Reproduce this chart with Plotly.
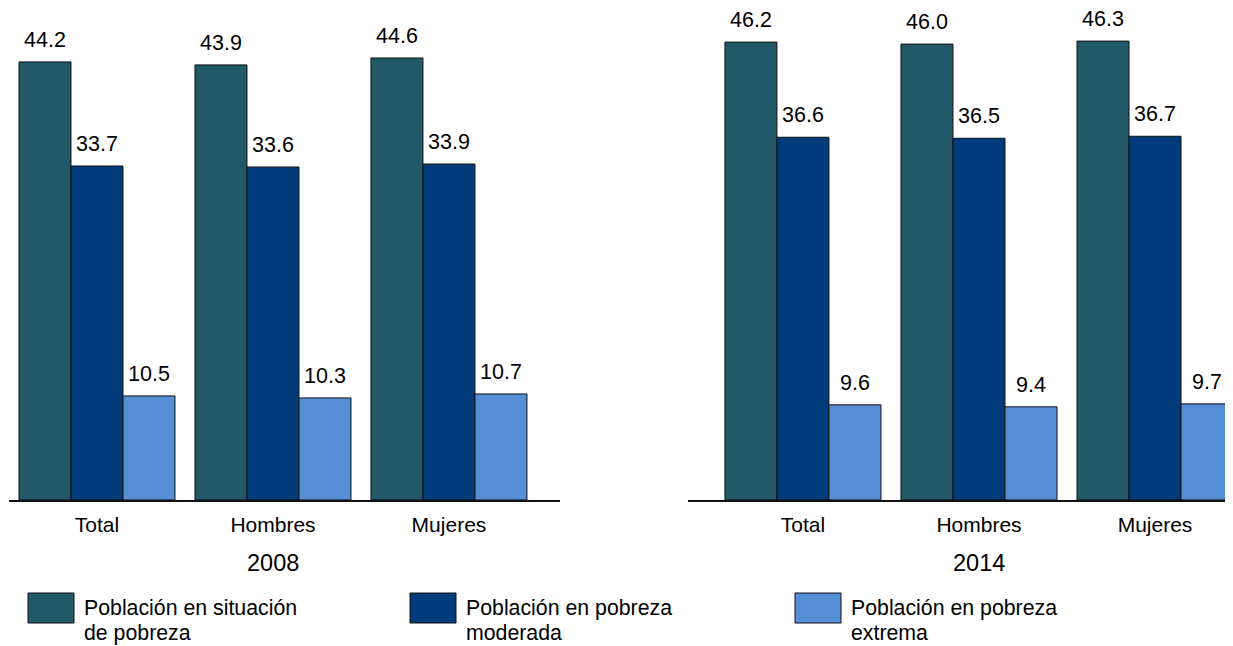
import plotly.graph_objects as go

categories = ["Total", "Hombres", "Mujeres"]
years = ["2008", "2014"]
series_names = ["Población en situación<br>de pobreza",
                "Población en pobreza<br>moderada",
                "Población en pobreza<br>extrema"]
pobreza_2008 = [44.2, 43.9, 44.6]
moderada_2008 = [33.7, 33.6, 33.9]
extrema_2008 = [10.5, 10.3, 10.7]
pobreza_2014 = [46.2, 46.0, 46.3]
moderada_2014 = [36.6, 36.5, 36.7]
extrema_2014 = [9.6, 9.4, 9.7]

colors = ["#215968", "#003B7B", "#558ED5"]
font = "Arial, Liberation Sans, sans-serif"
OFF = 8  # page body margin
W, H = 1233 - OFF, 646 - OFF
base_row = 500  # screen row of the zero line
plot_h = base_row - OFF
bargap = 20 / 176
bw = (1 - bargap) / 3


def px_x(p):
    # screen column -> paper x
    return (p - OFF) / W


def px_y(p):
    # screen row -> paper y
    return (base_row - p) / plot_h


panels = [
    ("x", "y", years[0], [pobreza_2008, moderada_2008, extrema_2008]),
    ("x2", "y2", years[1], [pobreza_2014, moderada_2014, extrema_2014]),
]

fig = go.Figure()
annotations = []
for xa, ya, year, data in panels:
    for i, vals in enumerate(data):
        fig.add_trace(go.Bar(
            x=categories, y=vals, xaxis=xa, yaxis=ya,
            marker=dict(color=colors[i], line=dict(color="#111111", width=1)),
            showlegend=False, hoverinfo="skip"))
        for j, v in enumerate(vals):
            annotations.append(dict(
                x=j + (i - 1) * bw, y=v, xref=xa, yref=ya, text=f"{v:.1f}",
                showarrow=False, yanchor="bottom", yshift=8,
                font=dict(size=21.5, color="#000000", family=font)))
    annotations.append(dict(
        x=1, y=px_y(563), xref=xa, yref="paper", text=year, showarrow=False,
        yanchor="middle", font=dict(size=23.5, color="#000000", family=font)))

# hand-drawn legend: big swatches, two-line labels
legend_x = [28, 410, 795]
for i, name in enumerate(series_names):
    x0 = legend_x[i]
    fig.add_shape(type="rect", xref="paper", yref="paper",
                  x0=px_x(x0), x1=px_x(x0 + 46), y0=px_y(593), y1=px_y(623),
                  fillcolor=colors[i], line=dict(color="#111111", width=1))
    for k, line in enumerate(name.split("<br>")):
        annotations.append(dict(
            x=px_x(x0 + 55), y=px_y(608 + 25 * k), xref="paper", yref="paper",
            text=line, showarrow=False, xanchor="left", yanchor="middle",
            borderpad=0, font=dict(size=21.3, color="#000000", family=font)))

axis_common = dict(showline=True, linecolor="#111111", linewidth=1.5,
                   ticks="", showgrid=False, zeroline=False,
                   ticklabelstandoff=5,
                   tickfont=dict(size=21, color="#000000", family=font))
fig.update_layout(
    width=W, height=H,
    margin=dict(l=0, r=0, t=0, b=H - plot_h),
    paper_bgcolor="white", plot_bgcolor="white",
    barmode="group", bargap=bargap, bargroupgap=0,
    xaxis=dict(domain=[px_x(9), px_x(560)], range=[-0.5, 2.631], anchor="y",
               **axis_common),
    xaxis2=dict(domain=[px_x(688), 1], range=[-0.653, 2.443], anchor="y2",
                **axis_common),
    yaxis=dict(range=[0, plot_h / 9.911], visible=False, anchor="x"),
    yaxis2=dict(range=[0, plot_h / 9.911], visible=False, anchor="x2"),
    annotations=annotations,
)

fig.write_html("out.html")
